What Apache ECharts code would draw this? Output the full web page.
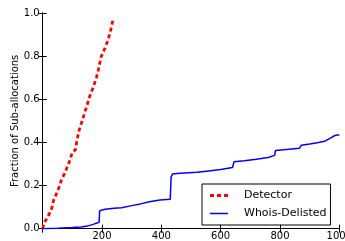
<!DOCTYPE html>
<html>
<head>
<meta charset="utf-8">
<script src="https://cdn.jsdelivr.net/npm/echarts@6/dist/echarts.min.js"></script>
<style>
html,body{margin:0;padding:0;background:#fff;}
#chart{width:345px;height:241px;}
</style>
</head>
<body>
<div id="chart"></div>
<script>
// 数据：横轴数量，纵轴比例
var xTicks=[0,200,400,600,800,1000];
var yTicks=[0,0.2,0.4,0.6,0.8,1.0];
var detectorX=[0,4,15,29,37,52,63,74,88,100,110,117,123,134,148,160,171,182,188,197,207,218,227,233,238];
var detectorY=[0,0.025,0.05,0.087,0.133,0.18,0.226,0.257,0.303,0.355,0.365,0.419,0.458,0.504,0.566,0.62,0.658,0.705,0.739,0.797,0.828,0.867,0.906,0.944,0.975];
var whoisX=[0,50,100,130,150,170,190,192,210,240,266,270,300,330,360,395,430,433,438,463,520,560,600,640,645,680,720,760,782,785,830,866,872,900,930,950,970,985,1000];
var whoisY=[0,0.002,0.005,0.008,0.012,0.02,0.03,0.083,0.09,0.095,0.097,0.103,0.107,0.115,0.125,0.133,0.136,0.24,0.254,0.257,0.262,0.268,0.274,0.284,0.31,0.315,0.322,0.33,0.34,0.363,0.368,0.373,0.387,0.393,0.4,0.405,0.42,0.432,0.436];

function pairs(xs,ys){
	var arr=[];
	for(var i=0;i<xs.length;i++){
		arr.push([xs[i],ys[i]]);
	}
	return arr;
}

var font='DejaVu Sans';
var chart=echarts.init(document.getElementById('chart'),null,{renderer:'canvas'});
var tickStyle={show:true,inside:true,length:4,lineStyle:{color:'#000',width:1}};
var lineStyle={show:true,lineStyle:{color:'#000',width:1}};
//图例图标：虚线和实线
var dashIcon='path://M0,0h4v3h-4z M7,0h4v3h-4z M14,0h4v3h-4z';
var solidIcon='path://M0,0h18v1.5h-18z';

chart.setOption({
	animation:false,
	grid:{left:42.7,right:5.7,top:13,bottom:12.3,containLabel:false,outerBoundsMode:'none'},
	legend:{
		orient:'vertical',
		left:202,top:184,
		padding:[6,4,6,8],
		itemGap:7,
		itemWidth:18,itemHeight:12,
		borderColor:'#000',borderWidth:1,
		textStyle:{fontFamily:font,fontSize:11,color:'#000',padding:[0,0,0,11]},
		data:[
			{name:'Detector',icon:dashIcon,itemStyle:{color:'#ff0000'}},
			{name:'Whois-Delisted',icon:solidIcon,itemStyle:{color:'#0000ff'}}
		]
	},
	xAxis:[{
		type:'value',min:xTicks[0],max:xTicks[xTicks.length-1],interval:200,
		axisLine:lineStyle,axisTick:tickStyle,splitLine:{show:false},
		axisLabel:{fontFamily:font,fontSize:10,color:'#000',margin:3,alignMaxLabel:'center',
			formatter:function(v){return v===0?'':String(v);}}
	},{
		type:'value',position:'top',min:xTicks[0],max:xTicks[xTicks.length-1],interval:200,
		axisLine:lineStyle,axisTick:tickStyle,splitLine:{show:false},axisLabel:{show:false}
	}],
	yAxis:[{
		type:'value',min:yTicks[0],max:yTicks[yTicks.length-1],interval:0.2,
		name:'Fraction of Sub-allocations',nameLocation:'middle',nameGap:22,nameMoveOverlap:false,
		nameTextStyle:{fontFamily:font,fontSize:10,color:'#000'},
		axisLine:lineStyle,axisTick:tickStyle,splitLine:{show:false},
		axisLabel:{fontFamily:font,fontSize:10,color:'#000',margin:3,
			formatter:function(v){return v.toFixed(1);}}
	},{
		type:'value',position:'right',min:yTicks[0],max:yTicks[yTicks.length-1],interval:0.2,
		axisLine:lineStyle,axisTick:tickStyle,splitLine:{show:false},axisLabel:{show:false}
	}],
	series:[{
		name:'Detector',type:'line',symbol:'none',
		lineStyle:{color:'#ff0000',width:2.8,type:[4,3]},
		itemStyle:{color:'#ff0000'},
		data:pairs(detectorX,detectorY)
	},{
		name:'Whois-Delisted',type:'line',symbol:'none',
		lineStyle:{color:'#0000ff',width:1.5},
		itemStyle:{color:'#0000ff'},
		data:pairs(whoisX,whoisY)
	}]
});
</script>
</body>
</html>
